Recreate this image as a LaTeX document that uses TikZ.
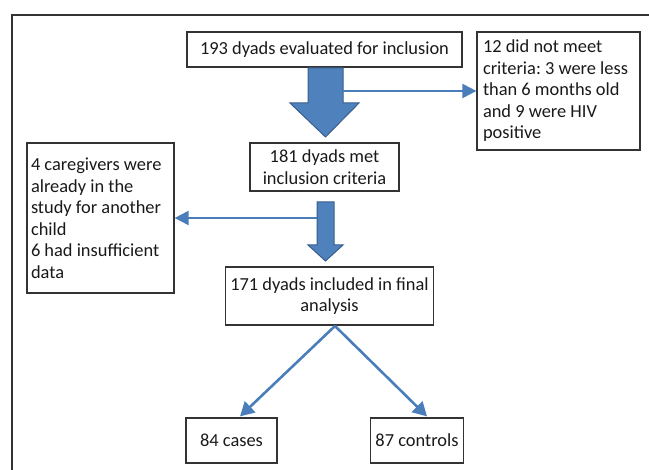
\documentclass[tikz,border=0pt]{standalone}
\usepackage{fontspec}
\setmainfont{Carlito}
\usetikzlibrary{arrows.meta,calc}
\definecolor{blockfill}{RGB}{79,129,189}
\definecolor{blockline}{RGB}{56,93,138}
\definecolor{linkblue}{RGB}{74,126,187}
\tikzset{
  box/.style={draw=black!80, line width=1.2pt, text=black!90, inner xsep=5pt, inner ysep=2pt,
    font=\fontsize{18.4}{21.5}\selectfont\frenchspacing},
  blockarrow/.style={draw=blockline, line width=1pt, fill=blockfill},
  link/.style={draw=linkblue, line width=2pt, -{Triangle[length=14pt,width=14pt]}},
  forklink/.style={draw=linkblue, line width=2.6pt, -{Triangle[length=14pt,width=15pt]}}
}
\begin{document}
\begin{tikzpicture}[x=1pt,y=-1pt]
\useasboundingbox (0,0) rectangle (649,470);
% Outer frame
\draw [black!80, line width=1.2pt] (12,470) -- (12,15) -- (649,15) ;

\node [box, minimum width=275pt, minimum height=35pt, align=center] (top) at (324.5,49.5) {193 dyads evaluated for inclusion};
\node [box, text width=151pt, minimum height=118pt, inner xsep=6pt, align=flush left] (excl1) at (558.5,91) {12 did not meet\\ criteria: 3 were less\\ than 6 months old\\ and 9 were HIV\\ positive};
\node [box, minimum width=149pt, minimum height=48pt, align=center] (met) at (324.5,167) {181 dyads met\\ inclusion criteria};
\node [box, text width=139pt, minimum height=150pt, inner xsep=4pt, align=flush left] (excl2) at (100.5,218) {4 caregivers were\\ already in the\\ study for another\\ child\\ 6 had insufficient\\ data};
\node [box, minimum width=207pt, minimum height=58pt, align=center] (incl) at (329.5,296) {171 dyads included in final\\ analysis};
\node [box, minimum width=91pt, minimum height=45pt, align=center] (cases) at (231.5,440.5) {84 cases};
\node [box, minimum width=92pt, minimum height=45pt, align=center] (controls) at (417,440.5) {87 controls};

% Shape: Down Arrow
\draw [blockarrow] (308,68) -- (308,103) -- (290,103) -- (325.5,137) -- (359,103) -- (343,103) -- (343,68) -- cycle ;
% Shape: Down Arrow
\draw [blockarrow] (317,202) -- (317,245) -- (308,245) -- (325.5,261) -- (343,245) -- (334,245) -- (334,202) -- cycle ;

\coordinate (s1) at (343,91);
\coordinate (s2) at (317,218);
\coordinate (fork) at (335,326);
\draw [link] (s1) -- (excl1.west) ;
\draw [link] (s2) -- (excl2.east) ;
\draw [forklink] (fork) -- ($(cases.north)+(8.5,-1)$) ;
\draw [forklink] (fork) -- ($(controls.north)+(10,-1)$) ;

\end{tikzpicture}
\end{document}
